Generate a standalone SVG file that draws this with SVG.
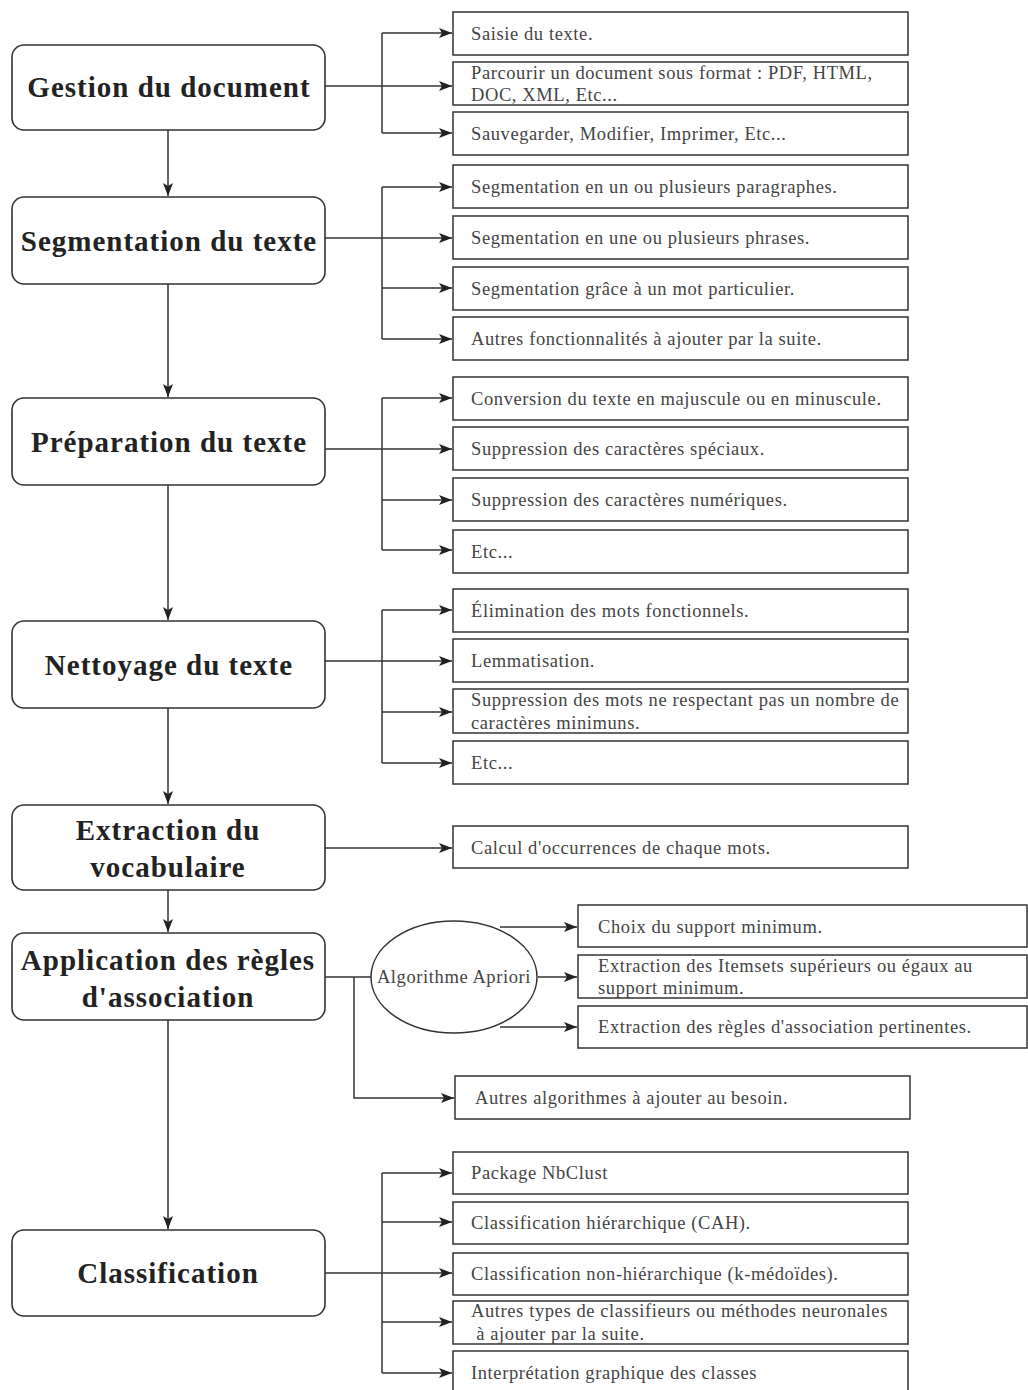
<svg xmlns="http://www.w3.org/2000/svg" width="1028" height="1390" viewBox="0 0 1028 1390">
<style>
.node{fill:#fff;stroke:#333;stroke-width:1.6}
.box{fill:#fff;stroke:#333;stroke-width:1.5}
.nt{font-family:"Liberation Serif",serif;font-weight:bold;font-size:29px;letter-spacing:1px;fill:#222;text-anchor:middle}
.bt{font-family:"Liberation Serif",serif;font-size:18.5px;letter-spacing:0.6px;fill:#444}
.ln{fill:none;stroke:#333;stroke-width:1.5}
</style>
<defs>
<marker id="ah" markerUnits="userSpaceOnUse" markerWidth="14" markerHeight="10" refX="13" refY="5" orient="auto">
<path d="M0,0 L13,5 L0,10 L3,5 z" fill="#222"/>
</marker>
</defs>
<rect width="1028" height="1390" fill="#fff"/>

<g id="connectors">
<path class="ln" d="M168,130 V196" marker-end="url(#ah)"/>
<path class="ln" d="M168,284 V397" marker-end="url(#ah)"/>
<path class="ln" d="M168,485 V620" marker-end="url(#ah)"/>
<path class="ln" d="M168,708 V804" marker-end="url(#ah)"/>
<path class="ln" d="M168,890 V932" marker-end="url(#ah)"/>
<path class="ln" d="M168,1020 V1229" marker-end="url(#ah)"/>
<path class="ln" d="M325,86 H452" marker-end="url(#ah)"/>
<path class="ln" d="M382,33 V133"/>
<path class="ln" d="M382,33 H452" marker-end="url(#ah)"/>
<path class="ln" d="M382,133 H452" marker-end="url(#ah)"/>
<path class="ln" d="M325,238 H452" marker-end="url(#ah)"/>
<path class="ln" d="M382,187 V339"/>
<path class="ln" d="M382,187 H452" marker-end="url(#ah)"/>
<path class="ln" d="M382,288 H452" marker-end="url(#ah)"/>
<path class="ln" d="M382,339 H452" marker-end="url(#ah)"/>
<path class="ln" d="M325,449 H452" marker-end="url(#ah)"/>
<path class="ln" d="M382,398 V550"/>
<path class="ln" d="M382,398 H452" marker-end="url(#ah)"/>
<path class="ln" d="M382,500 H452" marker-end="url(#ah)"/>
<path class="ln" d="M382,550 H452" marker-end="url(#ah)"/>
<path class="ln" d="M325,661 H452" marker-end="url(#ah)"/>
<path class="ln" d="M382,610 V763"/>
<path class="ln" d="M382,610 H452" marker-end="url(#ah)"/>
<path class="ln" d="M382,712 H452" marker-end="url(#ah)"/>
<path class="ln" d="M382,763 H452" marker-end="url(#ah)"/>
<path class="ln" d="M325,848 H452" marker-end="url(#ah)"/>
<path class="ln" d="M325,977 H371"/>
<path class="ln" d="M354,977 V1098 H454" marker-end="url(#ah)"/>
<path class="ln" d="M500,927 H577" marker-end="url(#ah)"/>
<path class="ln" d="M538,977 H577" marker-end="url(#ah)"/>
<path class="ln" d="M500,1027 H577" marker-end="url(#ah)"/>
<path class="ln" d="M325,1273 H452" marker-end="url(#ah)"/>
<path class="ln" d="M382,1173 V1373"/>
<path class="ln" d="M382,1173 H452" marker-end="url(#ah)"/>
<path class="ln" d="M382,1222 H452" marker-end="url(#ah)"/>
<path class="ln" d="M382,1322 H452" marker-end="url(#ah)"/>
<path class="ln" d="M382,1373 H452" marker-end="url(#ah)"/>
</g>

<g id="n-gestion"><rect class="node" x="12" y="45" width="313" height="85" rx="12"/><text class="nt" x="169" y="97">Gestion du document</text></g>
<g id="n-segmentation"><rect class="node" x="12" y="197" width="313" height="87" rx="12"/><text class="nt" x="169" y="251">Segmentation du texte</text></g>
<g id="n-preparation"><rect class="node" x="12" y="398" width="313" height="87" rx="12"/><text class="nt" x="169" y="452">Préparation du texte</text></g>
<g id="n-nettoyage"><rect class="node" x="12" y="621" width="313" height="87" rx="12"/><text class="nt" x="169" y="675">Nettoyage du texte</text></g>
<g id="n-extraction"><rect class="node" x="12" y="805" width="313" height="85" rx="12"/><text class="nt" x="168" y="840">Extraction du</text><text class="nt" x="168" y="877">vocabulaire</text></g>
<g id="n-application"><rect class="node" x="12" y="933" width="313" height="87" rx="12"/><text class="nt" x="168" y="970">Application des règles</text><text class="nt" x="168" y="1007">d'association</text></g>
<g id="n-classification"><rect class="node" x="12" y="1230" width="313" height="86" rx="12"/><text class="nt" x="168" y="1283">Classification</text></g>

<g id="n-apriori"><ellipse cx="454" cy="977" rx="83" ry="56" fill="#fff" stroke="#333" stroke-width="1.5"/><text class="bt" x="454" y="983" text-anchor="middle" letter-spacing="0.3">Algorithme Apriori</text></g>

<g id="b-saisie"><rect class="box" x="453" y="12" width="455" height="43"/><text class="bt" x="471" y="40">Saisie du texte.</text></g>
<g id="b-parcourir"><rect class="box" x="453" y="62" width="455" height="43"/><text class="bt" x="471" y="79">Parcourir un document sous format : PDF, HTML,</text><text class="bt" x="471" y="101">DOC, XML, Etc...</text></g>
<g id="b-sauvegarder"><rect class="box" x="453" y="112" width="455" height="43"/><text class="bt" x="471" y="140">Sauvegarder, Modifier, Imprimer, Etc...</text></g>

<g id="b-seg1"><rect class="box" x="453" y="165" width="455" height="43"/><text class="bt" x="471" y="193">Segmentation en un ou plusieurs paragraphes.</text></g>
<g id="b-seg2"><rect class="box" x="453" y="216" width="455" height="43"/><text class="bt" x="471" y="244">Segmentation en une ou plusieurs phrases.</text></g>
<g id="b-seg3"><rect class="box" x="453" y="267" width="455" height="43"/><text class="bt" x="471" y="295">Segmentation grâce à un mot particulier.</text></g>
<g id="b-seg4"><rect class="box" x="453" y="317" width="455" height="43"/><text class="bt" x="471" y="345">Autres fonctionnalités à ajouter par la suite.</text></g>

<g id="b-prep1"><rect class="box" x="453" y="377" width="455" height="43"/><text class="bt" x="471" y="405">Conversion du texte en majuscule ou en minuscule.</text></g>
<g id="b-prep2"><rect class="box" x="453" y="427" width="455" height="43"/><text class="bt" x="471" y="455">Suppression des caractères spéciaux.</text></g>
<g id="b-prep3"><rect class="box" x="453" y="478" width="455" height="43"/><text class="bt" x="471" y="506">Suppression des caractères numériques.</text></g>
<g id="b-prep4"><rect class="box" x="453" y="530" width="455" height="43"/><text class="bt" x="471" y="558">Etc...</text></g>

<g id="b-nett1"><rect class="box" x="453" y="589" width="455" height="43"/><text class="bt" x="471" y="617">Élimination des mots fonctionnels.</text></g>
<g id="b-nett2"><rect class="box" x="453" y="639" width="455" height="43"/><text class="bt" x="471" y="667">Lemmatisation.</text></g>
<g id="b-nett3"><rect class="box" x="453" y="689" width="455" height="44"/><text class="bt" x="471" y="706">Suppression des mots ne respectant pas un nombre de</text><text class="bt" x="471" y="729">caractères minimuns.</text></g>
<g id="b-nett4"><rect class="box" x="453" y="741" width="455" height="43"/><text class="bt" x="471" y="769">Etc...</text></g>

<g id="b-ext"><rect class="box" x="453" y="826" width="455" height="42"/><text class="bt" x="471" y="854">Calcul d'occurrences de chaque mots.</text></g>

<g id="b-apr1"><rect class="box" x="578" y="905" width="449" height="42"/><text class="bt" x="598" y="933">Choix du support minimum.</text></g>
<g id="b-apr2"><rect class="box" x="578" y="955" width="449" height="43"/><text class="bt" x="598" y="972">Extraction des Itemsets supérieurs ou égaux au</text><text class="bt" x="598" y="994">support minimum.</text></g>
<g id="b-apr3"><rect class="box" x="578" y="1006" width="449" height="42"/><text class="bt" x="598" y="1033">Extraction des règles d'association pertinentes.</text></g>

<g id="b-autres-alg"><rect class="box" x="455" y="1076" width="455" height="43"/><text class="bt" x="475" y="1104">Autres algorithmes à ajouter au besoin.</text></g>

<g id="b-cl1"><rect class="box" x="453" y="1152" width="455" height="42"/><text class="bt" x="471" y="1179">Package NbClust</text></g>
<g id="b-cl2"><rect class="box" x="453" y="1202" width="455" height="42"/><text class="bt" x="471" y="1229">Classification hiérarchique (CAH).</text></g>
<g id="b-cl3"><rect class="box" x="453" y="1253" width="455" height="42"/><text class="bt" x="471" y="1280">Classification non-hiérarchique (k-médoïdes).</text></g>
<g id="b-cl4"><rect class="box" x="453" y="1301" width="455" height="43"/><text class="bt" x="471" y="1317">Autres types de classifieurs ou méthodes neuronales</text><text class="bt" x="471" y="1340" xml:space="preserve"> à ajouter par la suite.</text></g>
<g id="b-cl5"><rect class="box" x="453" y="1351" width="455" height="45"/><text class="bt" x="471" y="1379">Interprétation graphique des classes</text></g>
</svg>
